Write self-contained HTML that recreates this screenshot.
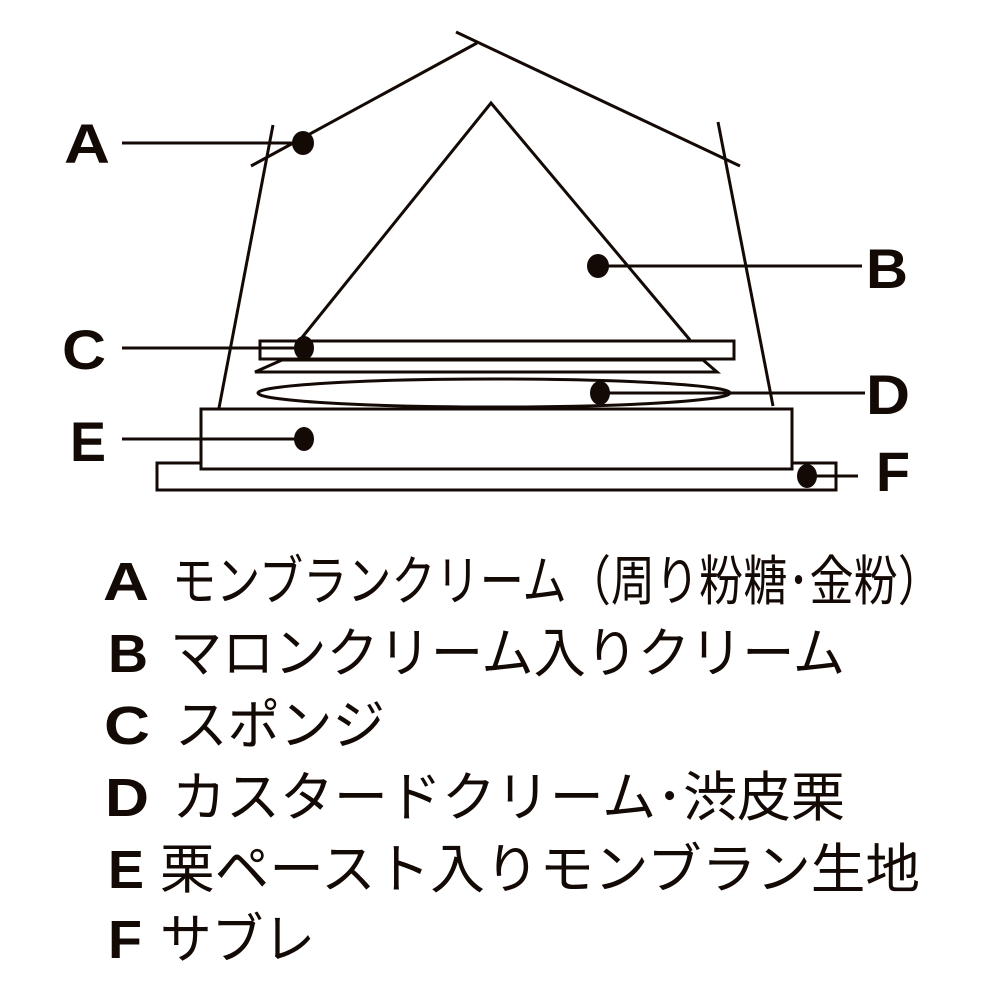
<!DOCTYPE html>
<html><head><meta charset="utf-8"><style>html,body{margin:0;padding:0;background:#fff}svg{display:block}</style></head>
<body>
<svg width="1000" height="1000" viewBox="0 0 1000 1000" xmlns="http://www.w3.org/2000/svg">
<g stroke="#140a05" stroke-width="3" fill="none">
<line x1="456" y1="32" x2="740" y2="166"/>
<line x1="477" y1="43" x2="251" y2="166"/>
<line x1="273" y1="125" x2="219" y2="408"/>
<line x1="718" y1="122" x2="773" y2="406"/>
<polyline points="300,340 491,103 690,340"/>
<rect x="260" y="341" width="474" height="18" fill="#fff"/>
<polygon points="282,360 703,360 717,372 255,372" fill="#fff"/>
<ellipse cx="494" cy="393" rx="236" ry="14"/>
<rect x="157" y="463" width="679" height="27" fill="#fff"/>
<rect x="201" y="409" width="591" height="60" fill="#fff"/>
<line x1="122" y1="143" x2="303" y2="143"/>
<line x1="598" y1="266" x2="862" y2="266"/>
<line x1="122" y1="348" x2="303" y2="348"/>
<line x1="599" y1="393" x2="865" y2="393"/>
<line x1="122" y1="439" x2="303" y2="439"/>
<line x1="807" y1="476" x2="858" y2="476"/>
</g>
<g fill="#140a05">
<ellipse cx="303" cy="143" rx="11" ry="12"/>
<ellipse cx="598" cy="266" rx="11" ry="12"/>
<ellipse cx="304" cy="348" rx="10" ry="12"/>
<ellipse cx="600" cy="393" rx="10" ry="12"/>
<ellipse cx="304" cy="439" rx="10" ry="12"/>
<ellipse cx="807" cy="476" rx="10" ry="12"/>
</g>
<g fill="#140a05" font-family="Liberation Sans, sans-serif" font-weight="bold" font-size="56">
<text x="64" y="163" textLength="46" lengthAdjust="spacingAndGlyphs">A</text>
<text x="866" y="288" textLength="42" lengthAdjust="spacingAndGlyphs">B</text>
<text x="62" y="369" textLength="44" lengthAdjust="spacingAndGlyphs">C</text>
<text x="866" y="414" textLength="44" lengthAdjust="spacingAndGlyphs">D</text>
<text x="70" y="461" textLength="36" lengthAdjust="spacingAndGlyphs">E</text>
<text x="876" y="491" textLength="34" lengthAdjust="spacingAndGlyphs">F</text>
</g>
<g fill="#140a05" font-family="Liberation Sans, sans-serif" font-weight="bold" font-size="54">
<text x="103" y="600" textLength="46" lengthAdjust="spacingAndGlyphs">A</text>
<text x="108" y="672" textLength="40" lengthAdjust="spacingAndGlyphs">B</text>
<text x="104" y="744" textLength="46" lengthAdjust="spacingAndGlyphs">C</text>
<text x="105" y="816" textLength="44" lengthAdjust="spacingAndGlyphs">D</text>
<text x="108" y="888" textLength="36" lengthAdjust="spacingAndGlyphs">E</text>
<text x="108" y="958" textLength="34" lengthAdjust="spacingAndGlyphs">F</text>
</g>
<g fill="#140a05" font-family="'Noto Sans CJK JP', sans-serif" font-size="54">
<text x="172" y="600" textLength="770" lengthAdjust="spacingAndGlyphs">モンブランクリーム（周り粉糖･金粉）</text>
<text x="170" y="672" textLength="675" lengthAdjust="spacingAndGlyphs">マロンクリーム入りクリーム</text>
<text x="175" y="744" textLength="210" lengthAdjust="spacingAndGlyphs">スポンジ</text>
<text x="172" y="816" textLength="673" lengthAdjust="spacingAndGlyphs">カスタードクリーム･渋皮栗</text>
<text x="160" y="888" textLength="760" lengthAdjust="spacingAndGlyphs">栗ペースト入りモンブラン生地</text>
<text x="160" y="958" textLength="155" lengthAdjust="spacingAndGlyphs">サブレ</text>
</g>
</svg>
</body></html>
